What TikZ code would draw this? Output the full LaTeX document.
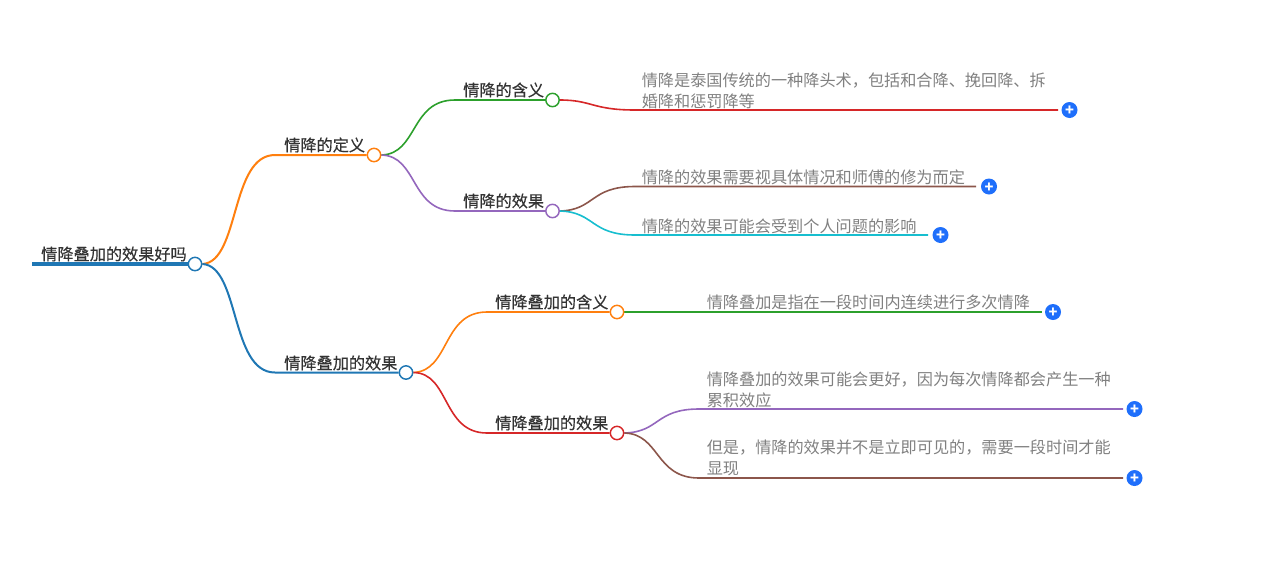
\documentclass[tikz,border=0pt]{standalone}
\usepackage{fontspec}
\setmainfont{Noto Sans CJK SC}
\newfontfamily\topicfont[FakeBold=0.35]{Noto Sans CJK SC}
\usetikzlibrary{backgrounds}
\definecolor{cblue}{HTML}{1F77B4}
\definecolor{corange}{HTML}{FF7F0E}
\definecolor{cgreen}{HTML}{2CA02C}
\definecolor{cred}{HTML}{D62728}
\definecolor{cpurple}{HTML}{9467BD}
\definecolor{cbrown}{HTML}{8C564B}
\definecolor{ccyan}{HTML}{17BECF}
\definecolor{cplus}{HTML}{1F6FFB}
\newcommand{\plusmark}{\raisebox{-0.38em}[0.4em][0.4em]{+}}
\tikzset{
  x=0.75pt, y=-0.75pt,
  dot/.style={circle,draw=#1,fill=white,line width=1.1pt,minimum size=10pt,inner sep=0pt},
  link/.style={draw=#1,line width=1.5pt},
  leaflink/.style={draw=#1,line width=1.2pt},
  topic/.style={anchor=west,inner sep=0pt,text=black!80,font=\topicfont\fontsize{12.12}{15}\selectfont},
  leaf/.style={anchor=west,inner sep=0pt,align=left,text=black!50,font=\fontsize{12.12}{15.6}\selectfont},
  plusdot/.style={circle,fill=cplus,text=white,minimum size=12pt,inner sep=0pt,font=\fontsize{11}{11}\selectfont\bfseries}
}
\begin{document}
\begin{tikzpicture}
\useasboundingbox (0,0) rectangle (1267,568);
% dots
\node[dot=cblue] (root) at (195,264) {};
\node[dot=corange] (def) at (374,155) {};
\node[dot=cblue] (eff) at (406,372.5) {};
\node[dot=cgreen] (defmean) at (552.5,100) {};
\node[dot=cpurple] (defeff) at (552.5,211) {};
\node[dot=corange] (effmean) at (617,312) {};
\node[dot=cred] (effeff) at (617,433) {};
% bends and free ends
\coordinate (start) at (32,264);
\coordinate (b1) at (275,155);
\coordinate (b2) at (275,372.5);
\coordinate (b3) at (455,100);
\coordinate (b4) at (455,211);
\coordinate (b5) at (487,312);
\coordinate (b6) at (487,433);
\coordinate (b7) at (635,110);
\coordinate (e7) at (1058,110);
\coordinate (b8) at (635,186.5);
\coordinate (e8) at (976,186.5);
\coordinate (b9) at (635,235);
\coordinate (e9) at (928,235);
\coordinate (e10) at (1042,312);
\coordinate (b11) at (699,409);
\coordinate (e11) at (1123,409);
\coordinate (b12) at (699,478);
\coordinate (e12) at (1123,478);
% labels
\node[topic] (t1) at (41,254) {情降叠加的效果好吗};
\node[topic] (t2) at (284,145) {情降的定义};
\node[topic] (t3) at (284,363) {情降叠加的效果};
\node[topic] (t4) at (463,90) {情降的含义};
\node[topic] (t5) at (463,201) {情降的效果};
\node[topic] (t6) at (495,302) {情降叠加的含义};
\node[topic] (t7) at (495,423) {情降叠加的效果};
\node[leaf] (l1) at (641.5,90.5) {情降是泰国传统的一种降头术，包括和合降、挽回降、拆\\婚降和惩罚降等};
\node[leaf] (l2) at (641.5,177.5) {情降的效果需要视具体情况和师傅的修为而定};
\node[leaf] (l3) at (641.5,226) {情降的效果可能会受到个人问题的影响};
\node[leaf] (l4) at (706.5,302) {情降叠加是指在一段时间内连续进行多次情降};
\node[leaf] (l5) at (706.5,389.5) {情降叠加的效果可能会更好，因为每次情降都会产生一种\\累积效应};
\node[leaf] (l6) at (706.5,458) {但是，情降的效果并不是立即可见的，需要一段时间才能\\显现};
% plus buttons
\node[plusdot] (p1) at (1069.5,110) {\plusmark};
\node[plusdot] (p2) at (989,186.5) {\plusmark};
\node[plusdot] (p3) at (940.5,235) {\plusmark};
\node[plusdot] (p4) at (1053,312) {\plusmark};
\node[plusdot] (p5) at (1134.5,409) {\plusmark};
\node[plusdot] (p6) at (1134.5,478) {\plusmark};
% connectors
\begin{scope}[on background layer]
\draw[draw=cblue,line width=3pt] (start) -- (root);
\draw[link=corange] (root.east) .. controls (240,262) and (230,155) .. (b1) -- (def);
\draw[link=cblue] (root.east) .. controls (240,266) and (230,372.5) .. (b2) -- (eff);
\draw[leaflink=cgreen] (def.east) .. controls (418,154) and (410,100) .. (b3) -- (defmean);
\draw[leaflink=cpurple] (def.east) .. controls (418,156) and (410,211) .. (b4) -- (defeff);
\draw[leaflink=corange] (eff.east) .. controls (450,371) and (442,312) .. (b5) -- (effmean);
\draw[leaflink=cred] (eff.east) .. controls (450,373) and (442,433) .. (b6) -- (effeff);
\draw[leaflink=cred] (defmean.east) .. controls (592,100) and (592,110) .. (b7) -- (e7);
\draw[leaflink=cbrown] (defeff.east) .. controls (595,210) and (590,186.5) .. (b8) -- (e8);
\draw[leaflink=ccyan] (defeff.east) .. controls (595,212) and (590,235) .. (b9) -- (e9);
\draw[leaflink=cgreen] (effmean.east) -- (e10);
\draw[leaflink=cpurple] (effeff.east) .. controls (660,432) and (655,409) .. (b11) -- (e11);
\draw[leaflink=cbrown] (effeff.east) .. controls (660,434) and (655,478) .. (b12) -- (e12);
\end{scope}
\end{tikzpicture}
\end{document}
